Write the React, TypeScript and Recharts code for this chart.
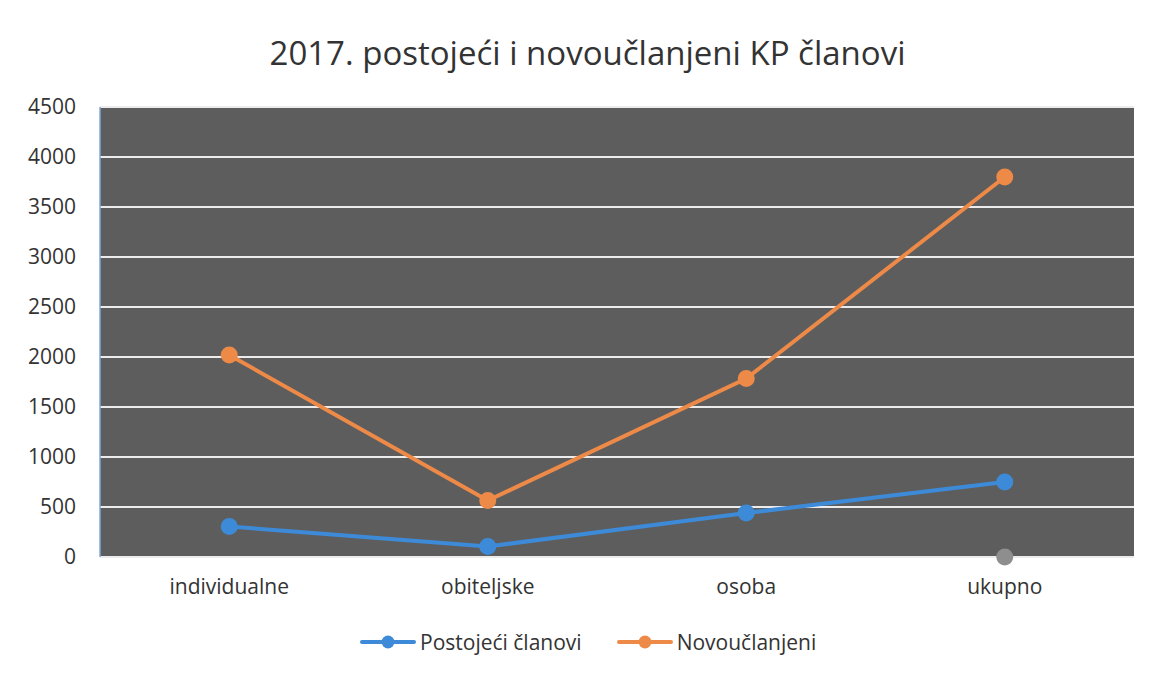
import React from "react";
import { LineChart, Line, XAxis, YAxis, CartesianGrid } from "recharts";

const categories = ["individualne", "obiteljske", "osoba", "ukupno"];
const postojeci = [305, 105, 440, 750];
const novouclanjeni = [2020, 565, 1785, 3800];
const treci: (number | null)[] = [null, null, null, 0];
const yTicks = [0, 500, 1000, 1500, 2000, 2500, 3000, 3500, 4000, 4500];

const data = categories.map((c, i) => ({
  cat: c,
  postojeci: postojeci[i],
  novo: novouclanjeni[i],
  treci: treci[i],
}));

const BLUE = "#3d8bd8";
const ORANGE = "#ee8a48";
const FONT = "'Open Sans', 'Noto Sans', sans-serif";

const LegendItem = ({ color, label, gap }: { color: string; label: string; gap: number }) => (
  <div style={{ display: "flex", alignItems: "center", marginRight: gap }}>
    <svg width={56} height={16} style={{ marginRight: 4 }}>
      <line x1={2} y1={8} x2={54} y2={8} stroke={color} strokeWidth={4} strokeLinecap="round" />
      <circle cx={28} cy={8} r={6.5} fill={color} />
    </svg>
    <span>{label}</span>
  </div>
);

export default function App() {
  return (
    <div style={{ position: "absolute", left: 0, top: 0, width: 1155, height: 674, background: "#fff", fontFamily: FONT }}>
      <div style={{ position: "absolute", left: 0, top: 30, width: 1175, textAlign: "center", fontSize: 33, color: "#333", lineHeight: "46px" }}>
        2017. postojeći i novoučlanjeni KP članovi
      </div>
      <LineChart width={1155} height={674} data={data} margin={{ top: 107, right: 21, bottom: 87, left: 0 }}>
        <CartesianGrid vertical={false} stroke="#ececec" strokeWidth={2} fill="#5d5d5d" fillOpacity={1} />
        <XAxis dataKey="cat" scale="band" axisLine={false} tickLine={false} tickMargin={16} tick={{ fill: "#333", fontSize: 21, fontFamily: FONT }} height={30} interval={0} />
        <XAxis xAxisId="top" dataKey="cat" scale="band" orientation="top" axisLine={{ stroke: BLUE, strokeWidth: 2 }} tickLine={false} tick={false} height={0} />
        <YAxis domain={[0, 4500]} ticks={yTicks} width={100} axisLine={{ stroke: "#7fa8d8", strokeWidth: 1.5 }} tickLine={false} tickMargin={18} tick={{ fill: "#333", fontSize: 21, fontFamily: FONT }} interval={0} />
        <YAxis yAxisId="right" orientation="right" domain={[0, 4500]} width={0} axisLine={{ stroke: BLUE, strokeWidth: 2 }} tickLine={false} tick={false} />
        <Line dataKey="postojeci" stroke={BLUE} strokeWidth={4} dot={{ r: 6.5, fill: BLUE, stroke: BLUE }} isAnimationActive={false} />
        <Line dataKey="novo" stroke={ORANGE} strokeWidth={4} dot={{ r: 6.5, fill: ORANGE, stroke: ORANGE }} isAnimationActive={false} />
        <Line dataKey="treci" stroke="#8e8e8e" strokeWidth={4} dot={{ r: 6.5, fill: "#8e8e8e", stroke: "#8e8e8e" }} legendType="none" isAnimationActive={false} />
      </LineChart>
      <div style={{ position: "absolute", left: 360, top: 627, display: "flex", fontSize: 21, color: "#333", lineHeight: "30px" }}>
        <LegendItem color={BLUE} label="Postojeći članovi" gap={35} />
        <LegendItem color={ORANGE} label="Novoučlanjeni" gap={0} />
      </div>
    </div>
  );
}
